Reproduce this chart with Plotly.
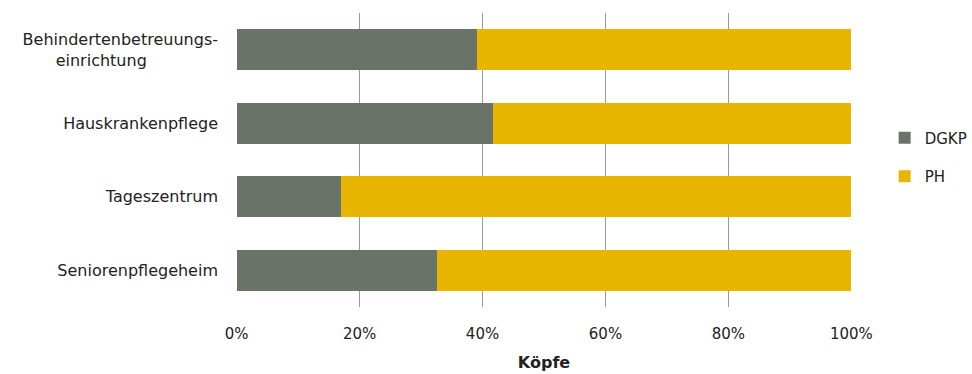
import plotly.graph_objects as go

categories = ["Behindertenbetreuungs-<br>einrichtung" + "&nbsp;" * 14, "Hauskrankenpflege", "Tageszentrum", "Seniorenpflegeheim"]
dgkp = [0.391, 0.417, 0.169, 0.326]
ph = [1 - v for v in dgkp]
x_ticks = [0, 0.2, 0.4, 0.6, 0.8, 1.0]
x_tick_labels = ["0%", "20%", "40%", "60%", "80%", "100%"]

FONT = "DejaVu Sans"
fig = go.Figure()
fig.add_trace(go.Bar(y=categories, x=dgkp, name="DGKP", orientation="h",
                     marker=dict(color="#69736A", line=dict(width=0)), legendgroup="a"))
fig.add_trace(go.Bar(y=categories, x=ph, name="PH", orientation="h",
                     marker=dict(color="#E8B500", line=dict(width=0)), legendgroup="b"))

fig.update_layout(
    width=972, height=374,
    margin=dict(l=236, r=120, t=13, b=67, autoexpand=False),
    barmode="stack", bargap=0.44,
    plot_bgcolor="white", paper_bgcolor="white",
    font=dict(family=FONT, size=15, color="#222222"),
    legend=dict(x=1.053, y=0.51, xanchor="left", yanchor="middle",
                traceorder="grouped", tracegroupgap=16,
                font=dict(size=15)),
    xaxis=dict(range=[-0.001, 1.001], tickvals=x_ticks, ticktext=x_tick_labels,
               showgrid=True, gridcolor="#999999", gridwidth=1,
               zeroline=False, showline=False,
               title=dict(text="<b>Köpfe</b>", font=dict(size=16), standoff=14),
               ticklabelstandoff=16, tickfont=dict(size=15)),
    yaxis=dict(categoryorder="array", categoryarray=categories, autorange="reversed",
               showgrid=False, zeroline=False, showline=False,
               ticklabelstandoff=17, tickfont=dict(size=16)),
)
fig.write_html("out.html")
